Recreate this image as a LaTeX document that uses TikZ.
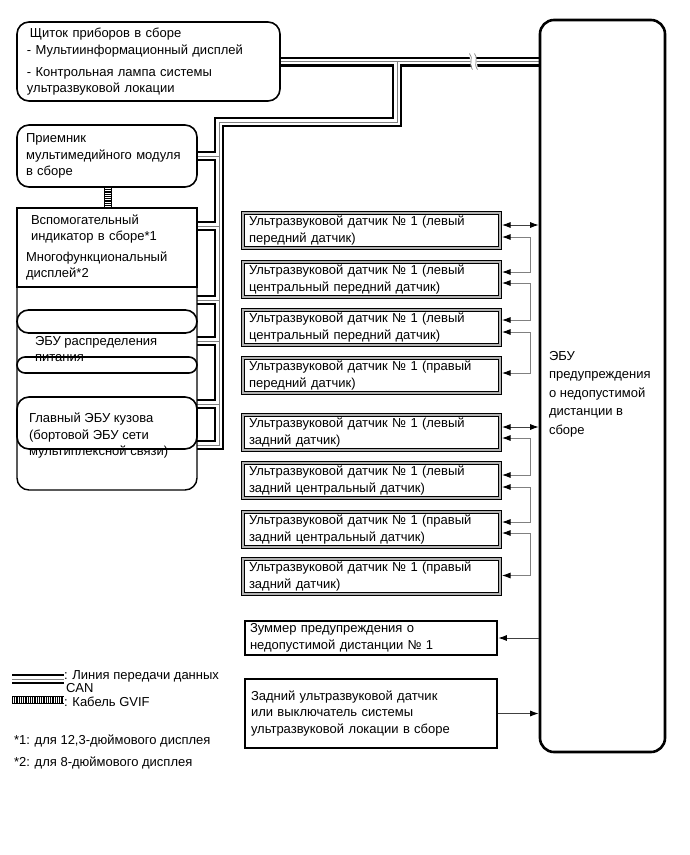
\documentclass[tikz,border=0pt]{standalone}
\usepackage{fontspec}
\setmainfont{Liberation Sans}
\usetikzlibrary{arrows.meta,calc,backgrounds}
\begin{document}
\begin{tikzpicture}[x=1pt,y=-1pt,
  every node/.style={font=\fontsize{13}{16.5}\selectfont, inner sep=0pt, outer sep=0pt},
  can/.style={draw=black, line width=10pt, postaction={draw=white, line width=5.8pt}, postaction={draw=gray, line width=0.9pt}},
  gvif/.style={draw=black, line width=8pt, postaction={draw=white, line width=6pt}, postaction={draw=black, line width=6pt, dash pattern=on 0.7pt off 1.1pt}},
  rbox/.style={draw, line width=1.6pt, rounded corners=12pt, anchor=north west, align=left},
  sbox/.style={draw, line width=1.4pt, anchor=north west, align=left},
  sensor/.style={draw, line width=1.4pt, double=gray!60, double distance=1.1pt, anchor=north west, minimum width=257pt, minimum height=35pt, text width=245pt, inner xsep=6pt, align=left},
  >={Latex[length=8.5pt,width=6pt,color=black]},
  link/.style={draw=black!75, line width=0.9pt},
  chain/.style={draw=gray, line width=0.9pt, <->},
  txt/.style={anchor=west, align=left},
]
\useasboundingbox (0,0) rectangle (690,855);

% ---------- left column ----------
\node[rbox, minimum width=263pt, minimum height=79pt, text width=243pt, inner xsep=10pt] (top) at (17,22)
  {\hspace*{3pt}Щиток приборов в сборе\\[1pt]- Мультиинформационный дисплей\\[5pt]- Контрольная лампа системы\\ультразвуковой локации};
\node[rbox, minimum width=180pt, minimum height=62pt, text width=162pt, inner xsep=9pt] (prm) at (17,125)
  {Приемник\\мультимедийного модуля\\в сборе};
\node[sbox, minimum width=180pt, minimum height=79pt, text width=164pt, inner xsep=8pt] (aux) at (17,208)
  {\hspace*{6pt}Вспомогательный\\\hspace*{6pt}индикатор в сборе*1\\[4pt]\hspace*{1pt}Многофункциональный\\\hspace*{1pt}дисплей*2};
\draw[line width=1.4pt, rounded corners=12pt] (aux.south west) -- (17,490) -- (197,490) -- (aux.south east);
\node[draw, line width=1.6pt, rounded corners=11.5pt, anchor=north west, minimum width=180pt, minimum height=23pt] (pill1) at (17,310) {};
\node[draw, line width=1.6pt, rounded corners=8pt, anchor=north west, minimum width=180pt, minimum height=16pt] (pill2) at (17,357) {};
\node[txt] (pdu) at (35,349) {ЭБУ распределения\\питания};
\node[rbox, minimum width=180pt, minimum height=52pt] (gl) at (17,397) {};
\node[txt] (glt) at (29,436) {Главный ЭБУ кузова\\(бортовой ЭБУ сети\\мультиплексной связи)};

% ---------- ECU ----------
\node[draw, line width=2.6pt, rounded corners=14pt, anchor=north west, minimum width=125pt, minimum height=732pt] (ecu) at (540,20) {};
\node[txt, font=\fontsize{13}{18.5}\selectfont] (ecut) at (549,394) {ЭБУ\\предупреждения\\о недопустимой\\дистанции в\\сборе};

% ---------- sensors ----------
\node[sensor] (s1) at (243,213) {Ультразвуковой датчик № 1 (левый\\передний датчик)};
\node[sensor] (s2) at (243,262) {Ультразвуковой датчик № 1 (левый\\центральный передний датчик)};
\node[sensor] (s3) at (243,310) {Ультразвуковой датчик № 1 (левый\\центральный передний датчик)};
\node[sensor] (s4) at (243,358) {Ультразвуковой датчик № 1 (правый\\передний датчик)};
\node[sensor] (s5) at (243,415) {Ультразвуковой датчик № 1 (левый\\задний датчик)};
\node[sensor] (s6) at (243,463) {Ультразвуковой датчик № 1 (левый\\задний центральный датчик)};
\node[sensor] (s7) at (243,512) {Ультразвуковой датчик № 1 (правый\\задний центральный датчик)};
\node[sensor] (s8) at (243,559) {Ультразвуковой датчик № 1 (правый\\задний датчик)};

\node[draw, line width=2.6pt, anchor=north west, minimum width=252pt, minimum height=34pt, text width=242pt, inner xsep=5pt, align=left] (bz) at (245,621)
  {Зуммер предупреждения о\\недопустимой дистанции № 1};
\node[draw, line width=1.4pt, anchor=north west, minimum width=252pt, minimum height=69pt, text width=240pt, inner xsep=6pt, align=left] (sw) at (245,679)
  {Задний ультразвуковой датчик\\или выключатель системы\\ультразвуковой локации в сборе};

% ---------- CAN bus ----------
\coordinate (bj) at (397,61.5);
\coordinate (bc) at (397,122);
\coordinate (bt) at (219,122);
\coordinate (bb) at (219,445);
\begin{pgfonlayer}{background}
\draw[can] (top.east) -- (ecu.west |- top.east)
  (bj) -- (bc) -- (bt) -- (bb) -- (bb -| aux.east)
  (prm.east) -- (prm.east -| bt)
  ($(aux.north east)+(0,18)$) -- ++(22,0)
  ($(aux.north east)+(0,92)$) -- ++(22,0)
  ($(aux.north east)+(0,133)$) -- ++(22,0)
  ($(aux.north east)+(0,196)$) -- ++(22,0);
\end{pgfonlayer}
% line break mark
\fill[white] (469,54) -- (475,54) -- (478,69) -- (472,69) -- cycle;
\draw[line width=0.7pt, gray] (469.5,53.5) .. controls (474,58) and (468,64) .. (472.5,69.5);
\draw[line width=0.7pt, gray] (474.5,53.5) .. controls (479,58) and (473,64) .. (477.5,69.5);

% GVIF cable
\draw[gvif] (prm.south -| 108,0) -- (aux.north -| 108,0);

% ---------- sensor links ----------
\coordinate (a1) at ([xshift=2pt,yshift=5.5pt]s1.east);
\coordinate (a5) at ([xshift=2pt,yshift=5.5pt]s5.east);
\coordinate (ew) at ([xshift=-1.3pt]ecu.west);
\draw[link,<->] (a1) -- (a1 -| ew);
\draw[link,<->] (a5) -- (a5 -| ew);

\coordinate (o1) at ([xshift=2pt,yshift=-6.5pt]s1.east);
\coordinate (i2) at ([xshift=2pt,yshift=7.5pt]s2.east);
\coordinate (o2) at ([xshift=2pt,yshift=-3.5pt]s2.east);
\coordinate (i3) at ([xshift=2pt,yshift=7.5pt]s3.east);
\coordinate (o3) at ([xshift=2pt,yshift=-4.5pt]s3.east);
\coordinate (i4) at ([xshift=2pt,yshift=2.5pt]s4.east);
\coordinate (o5) at ([xshift=2pt,yshift=-5.5pt]s5.east);
\coordinate (i6) at ([xshift=2pt,yshift=5.5pt]s6.east);
\coordinate (o6) at ([xshift=2pt,yshift=-6.5pt]s6.east);
\coordinate (i7) at ([xshift=2pt,yshift=7.5pt]s7.east);
\coordinate (o7) at ([xshift=2pt,yshift=-3.5pt]s7.east);
\coordinate (i8) at ([xshift=2pt,yshift=1pt]s8.east);
\draw[chain] (o1) -- ++(28,0) |- (i2);
\draw[chain] (o2) -- ++(28,0) |- (i3);
\draw[chain] (o3) -- ++(28,0) |- (i4);
\draw[chain] (o5) -- ++(28,0) |- (i6);
\draw[chain] (o6) -- ++(28,0) |- (i7);
\draw[chain] (o7) -- ++(28,0) |- (i8);

\draw[link,->] (ew |- bz.east) -- ([xshift=1.3pt]bz.east);
\draw[link,->] ([xshift=0.7pt]sw.east) -- (ew |- sw.east);

% ---------- legend ----------
\coordinate (lc1) at (12,679);
\coordinate (lc2) at (64,679);
\draw[can] (lc1) -- (lc2);
\node[anchor=north west, align=left, font=\fontsize{13}{13}\selectfont] (lg1) at (64,670.5) {: Линия передачи данных\\\hspace*{2pt}CAN};
\coordinate (lg1a) at (12,700);
\coordinate (lg1b) at (64,700);
\draw[gvif] (lg1a) -- (lg1b);
\node[txt] (lg2) at (64,701.5) {: Кабель GVIF};
\node[txt] (fn1) at (14,741) {*1: для 12,3-дюймового дисплея};
\node[txt] (fn2) at (14,763) {*2: для 8-дюймового дисплея};
\end{tikzpicture}
\end{document}
